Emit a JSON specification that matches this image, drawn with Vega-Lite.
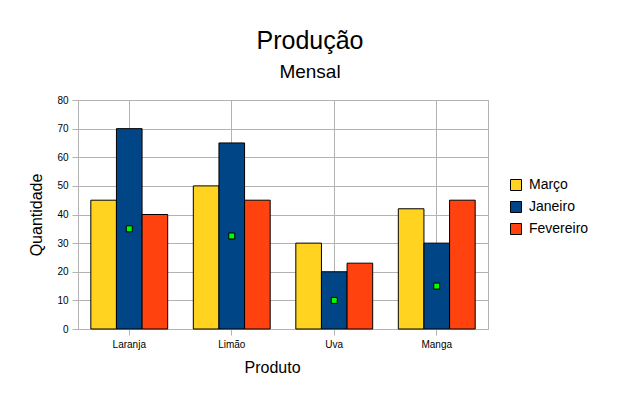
{
  "$schema": "https://vega.github.io/schema/vega-lite/v6.json",
  "width": 410,
  "height": 229,
  "autosize": {"type": "none"},
  "padding": {"left": 78, "top": 100, "right": 133, "bottom": 79},
  "background": "white",
  "config": {
    "font": "Liberation Sans",
    "view": {"stroke": "#b3b3b3", "strokeWidth": 1}
  },
  "title": {
    "text": "Produção",
    "subtitle": "Mensal",
    "fontSize": 25,
    "fontWeight": "normal",
    "color": "black",
    "subtitleFontSize": 19,
    "subtitleColor": "black",
    "subtitlePadding": 9,
    "anchor": "middle",
    "dx": 27,
    "offset": 13
  },
  "datasets": {
    "producao": [
      {"produto": "Laranja", "mes": "Março", "valor": 45},
      {"produto": "Laranja", "mes": "Janeiro", "valor": 70},
      {"produto": "Laranja", "mes": "Fevereiro", "valor": 40},
      {"produto": "Limão", "mes": "Março", "valor": 50},
      {"produto": "Limão", "mes": "Janeiro", "valor": 65},
      {"produto": "Limão", "mes": "Fevereiro", "valor": 45},
      {"produto": "Uva", "mes": "Março", "valor": 30},
      {"produto": "Uva", "mes": "Janeiro", "valor": 20},
      {"produto": "Uva", "mes": "Fevereiro", "valor": 23},
      {"produto": "Manga", "mes": "Março", "valor": 42},
      {"produto": "Manga", "mes": "Janeiro", "valor": 30},
      {"produto": "Manga", "mes": "Fevereiro", "valor": 45}
    ],
    "marcadores": [
      {"produto": "Laranja", "marcador": 35},
      {"produto": "Limão", "marcador": 32.5},
      {"produto": "Uva", "marcador": 10},
      {"produto": "Manga", "marcador": 15}
    ]
  },
  "encoding": {
    "x": {
      "field": "produto",
      "type": "nominal",
      "sort": ["Laranja", "Limão", "Uva", "Manga"],
      "scale": {"paddingInner": 0.25, "paddingOuter": 0.125},
      "axis": {
        "title": "Produto",
        "titleFontSize": 16,
        "titleFontWeight": "normal",
        "titleColor": "black",
        "titleX": 194,
        "titlePadding": 10,
        "labelAngle": 0,
        "labelFontSize": 10,
        "labelColor": "black",
        "labelPadding": 4,
        "tickSize": 6,
        "tickColor": "#b3b3b3",
        "domainColor": "#b3b3b3",
        "grid": true,
        "gridColor": "#b3b3b3",
        "bandPosition": 0.5
      }
    }
  },
  "layer": [
    {
      "data": {"name": "producao"},
      "mark": {"type": "bar", "stroke": "black", "strokeWidth": 1},
      "encoding": {
        "xOffset": {"field": "mes", "type": "nominal", "sort": ["Março", "Janeiro", "Fevereiro"]},
        "y": {
          "field": "valor",
          "type": "quantitative",
          "scale": {"domain": [0, 80], "nice": false},
          "axis": {
            "title": "Quantidade",
            "titleFontSize": 16,
            "titleFontWeight": "normal",
            "titleColor": "black",
            "titlePadding": 12,
            "values": [0, 10, 20, 30, 40, 50, 60, 70, 80],
            "labelOverlap": false,
            "labelFontSize": 10,
            "labelColor": "black",
            "labelPadding": 4,
            "tickSize": 6,
            "tickColor": "#b3b3b3",
            "domainColor": "#b3b3b3",
            "gridColor": "#b3b3b3"
          }
        },
        "color": {
          "field": "mes",
          "type": "nominal",
          "scale": {"domain": ["Março", "Janeiro", "Fevereiro"], "range": ["#ffd320", "#004586", "#ff420e"]},
          "legend": {
            "title": null,
            "orient": "none",
            "legendX": 431,
            "legendY": 78,
            "symbolType": "square",
            "symbolSize": 121,
            "symbolStrokeColor": "black",
            "symbolStrokeWidth": 1,
            "symbolOpacity": 1,
            "labelFontSize": 14,
            "labelColor": "black",
            "labelOffset": 6,
            "rowPadding": 6
          }
        }
      }
    },
    {
      "data": {"name": "marcadores"},
      "mark": {"type": "square", "size": 36, "filled": true, "fill": "#00ff00", "stroke": "black", "strokeWidth": 1, "opacity": 1},
      "encoding": {
        "y": {
          "field": "marcador",
          "type": "quantitative",
          "axis": {
            "title": "Quantidade",
            "titleFontSize": 16,
            "titleFontWeight": "normal",
            "titleColor": "black",
            "titlePadding": 12,
            "values": [0, 10, 20, 30, 40, 50, 60, 70, 80],
            "labelOverlap": false,
            "labelFontSize": 10,
            "labelColor": "black",
            "labelPadding": 4,
            "tickSize": 6,
            "tickColor": "#b3b3b3",
            "domainColor": "#b3b3b3",
            "gridColor": "#b3b3b3"
          }
        }
      }
    }
  ]
}
